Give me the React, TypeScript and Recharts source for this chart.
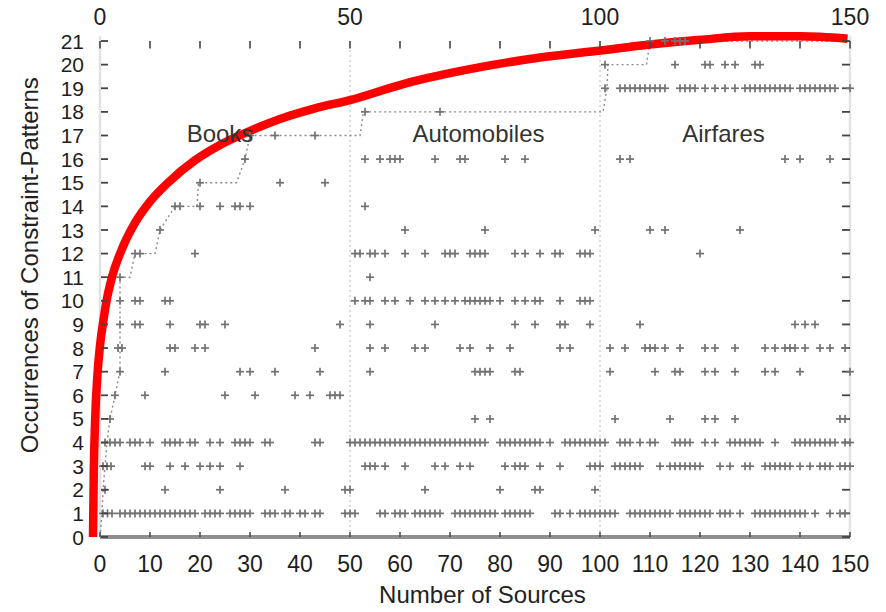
import React from 'react';
import { ComposedChart, Scatter, Line, XAxis, YAxis, ReferenceLine, ReferenceDot, Label } from 'recharts';

const FONT = '"Liberation Sans", Arial, Helvetica, sans-serif';

// x positions (number of sources) of the '+' marks, one list per occurrence level
const occ1 = [0.6, 1.5, 2.4, 4, 5, 6, 7, 8, 9, 10, 11, 12, 13, 14, 15, 16, 17, 18, 19, 21, 22, 23, 24, 26, 27, 28, 29, 30, 33, 34, 35, 37, 38, 40, 41, 43, 44, 49, 50, 51, 56, 57, 59, 60, 61, 63, 64, 65, 66, 67, 68, 71, 72, 73, 74, 75, 76, 77, 78, 79, 81, 82, 83, 84, 85, 86, 91, 92, 94, 96, 97, 98, 99, 100, 101, 102, 103, 106, 107, 108, 109, 110, 111, 112, 113, 114, 116, 117, 118, 119, 120, 121, 122, 124, 125, 126, 128, 131, 132, 133, 134, 135, 136, 137, 138, 139, 140, 141, 143, 146, 148, 149];
const occ2 = [1, 13, 24, 37, 49, 50, 65, 80, 87, 88, 99];
const occ3 = [0.6, 1.4, 2.2, 9, 10, 14, 17, 20, 22, 24, 28, 53, 54, 55, 57, 61, 67, 69, 72, 74, 81, 83, 84, 85, 88, 92, 98, 99, 100, 103, 104, 105, 106, 107, 108, 112, 114, 115, 116, 117, 118, 119, 120, 124, 126, 129, 130, 133, 134, 135, 136, 137, 138, 140, 142, 144, 145, 146, 148, 149, 150];
const occ4 = [1, 2, 3, 4, 6, 7, 8, 10, 13, 14, 15, 16, 18, 19, 22, 24, 27, 28, 29, 30, 33, 34, 43, 44, 50, 51, 52, 53, 54, 55, 56, 57, 58, 59, 60, 61, 62, 63, 64, 65, 66, 67, 68, 69, 70, 71, 72, 73, 74, 75, 76, 77, 80, 81, 82, 83, 84, 85, 86, 87, 88, 90, 93, 94, 95, 96, 97, 98, 99, 100, 101, 104, 105, 106, 108, 110, 111, 115, 116, 117, 118, 121, 123, 126, 127, 128, 129, 130, 131, 132, 135, 139, 140, 141, 142, 143, 144, 145, 146, 147, 149, 150];
const occ5 = [2, 75, 78, 103, 114, 121, 123, 127, 148, 149];
const occ6 = [3, 9, 25, 31, 39, 42, 46, 47, 48];
const occ7 = [4, 13, 28, 30, 35, 44, 54, 75, 76, 77, 78, 83, 84, 102, 111, 115, 116, 121, 123, 127, 133, 135, 140, 150];
const occ8 = [3.6, 4.4, 14, 15, 19, 21, 43, 54, 57, 63, 65, 72, 74, 78, 82, 92, 94, 102, 105, 109, 110, 111, 113, 116, 121, 123, 127, 133, 135, 137, 138, 139, 141, 144, 146, 149];
const occ9 = [4, 7, 8, 14, 20, 21, 25, 48, 54, 67, 83, 87, 92, 93, 98, 108, 139, 141, 143];
const occ10 = [4, 7, 8, 13, 14, 51, 53, 54, 57, 59, 62, 65, 67, 69, 71, 73, 74, 75, 76, 77, 78, 80, 83, 85, 87, 88, 92, 96, 97, 98];
const occ11 = [4, 54];
const occ12 = [7, 8, 19, 51, 52, 54, 55, 57, 61, 65, 69, 70, 71, 74, 75, 76, 77, 83, 85, 88, 91, 92, 96, 97, 98, 120];
const occ13 = [12, 61, 77, 99, 110, 113, 128];
const occ14 = [15, 16, 20, 24, 27, 28, 30, 53];
const occ15 = [20, 36, 45];
const occ16 = [29, 53, 56, 58, 59, 60, 67, 72, 73, 81, 85, 104, 106, 137, 140, 146];
const occ17 = [30, 35, 43];
const occ18 = [53, 68];
const occ19 = [101, 104, 105, 106, 107, 108, 109, 110, 111, 112, 113, 116, 117, 118, 119, 121, 123, 125, 127, 129, 130, 131, 132, 133, 134, 135, 136, 137, 138, 140, 141, 142, 143, 144, 145, 146, 147, 150];
const occ20 = [101, 115, 121, 122, 125, 127, 131, 132];
const occ21 = [110, 113, 115, 116, 117];

const occurrenceRows = [occ1, occ2, occ3, occ4, occ5, occ6, occ7, occ8, occ9, occ10, occ11, occ12, occ13, occ14, occ15, occ16, occ17, occ18, occ19, occ20, occ21];

// running-maximum step line (dotted)
const stepX = [0, 0.4, 0.6, 1, 1.4, 2, 3, 4, 4, 6, 7, 11, 12, 15, 19.4, 19.7, 27.3, 29, 30, 52, 52.7, 100.6, 101.4, 101.6, 109.3, 110, 150];
const stepY = [0, 1, 2, 3, 4, 5, 6, 7, 11, 11, 12, 12, 13, 14, 14, 15, 15, 16, 17, 17, 18, 18, 19, 20, 20, 21, 21];

// red fitted curve
const curveX = [-1.4, -1.25, -1.0, -0.5, 0, 0.7, 1.4, 2.4, 4.6, 7, 10, 13.6, 19, 24, 29, 36, 43, 50, 61, 75, 88, 100, 110, 120, 130, 140, 149.5];
const curveY = [0, 2.7, 4.8, 6.9, 8.1, 9.2, 10.1, 11.0, 12.3, 13.3, 14.2, 15.0, 15.95, 16.6, 17.1, 17.7, 18.15, 18.5, 19.2, 19.85, 20.3, 20.6, 20.85, 21.05, 21.2, 21.2, 21.1];

const xTicks = [0, 10, 20, 30, 40, 50, 60, 70, 80, 90, 100, 110, 120, 130, 140, 150];
const topLabelValues = [0, 50, 100, 150];
const yTicks = [0, 1, 2, 3, 4, 5, 6, 7, 8, 9, 10, 11, 12, 13, 14, 15, 16, 17, 18, 19, 20, 21];
const dividerX = [50, 100];

const domainNames = ['Books', 'Automobiles', 'Airfares'];
const domainLabelX = [24, 75.7, 124.7];
const domainLabelY = [17.08, 17.08, 17.08];

const marks = occurrenceRows.flatMap((xs, i) => xs.map((x) => ({ x, y: i + 1 })));
const stepData = stepX.map((x, i) => ({ x, y: stepY[i] }));
const curveData = curveX.map((x, i) => ({ x, y: curveY[i] }));

const PlusMark = (props: any) => {
  const { cx, cy } = props;
  if (cx == null || cy == null) return null;
  return (
    <g>
      <line x1={cx - 4} x2={cx + 4} y1={cy} y2={cy} stroke="#727272" strokeWidth={1.7} />
      <line x1={cx} x2={cx} y1={cy - 4} y2={cy + 4} stroke="#727272" strokeWidth={1.7} />
    </g>
  );
};

const NoMark = () => <g />;
const NoTickLabel = () => <g />;

const TopTick = (props: any) => {
  const { x, y, payload } = props;
  const v = payload.value;
  return (
    <g>
      <line x1={x} x2={x} y1={y + 23.6} y2={y + 31} stroke="#444" strokeWidth={1.6} />
      {topLabelValues.includes(v) && (
        <text x={x} y={y + 7.6} textAnchor="middle" fontSize={23} fill="#1e1e1e" fontFamily={FONT}>
          {v}
        </text>
      )}
    </g>
  );
};

const LeftTick = (props: any) => {
  const { x, y, payload } = props;
  return (
    <g>
      <line x1={x + 11} x2={x + 18} y1={y} y2={y} stroke="#444" strokeWidth={1.8} />
      <text x={x - 6} y={y} dy="0.36em" textAnchor="end" fontSize={21} fill="#1e1e1e" fontFamily={FONT}>
        {payload.value}
      </text>
    </g>
  );
};

const XTitle = (props: any) => {
  const vb = props.viewBox || { x: 90, y: 537, width: 760, height: 60 };
  return (
    <text x={vb.x + vb.width / 2 + 12.5} y={vb.y + 66} textAnchor="middle" fontSize={24} fill="#222" fontFamily={FONT}>
      Number of Sources
    </text>
  );
};

const YTitle = (props: any) => {
  const vb = props.viewBox || { x: 30, y: 17.4, width: 60, height: 519.6 };
  const cx = vb.x + 8;
  const cy = vb.y + vb.height / 2 - 12;
  return (
    <text x={cx} y={cy} transform={`rotate(-90, ${cx}, ${cy})`} textAnchor="middle" fontSize={24} fill="#222" fontFamily={FONT}>
      Occurrences of Constraint-Patterns
    </text>
  );
};

export default function App() {
  return (
    <div style={{ position: 'absolute', left: 0, top: 0, width: 886, height: 612, background: '#fff' }}>
      <ComposedChart width={886} height={612} margin={{ top: 0.4, right: 26, bottom: 15, left: 30 }}>
        <XAxis
          dataKey="x"
          type="number"
          domain={[-2, 150]}
          ticks={xTicks}
          interval={0}
          axisLine={false}
          tickSize={-5}
          tickMargin={24}
          tickLine={{ stroke: '#444', strokeWidth: 1.5 }}
          tick={{ fontSize: 23, fill: '#1e1e1e', fontFamily: FONT }}
          height={60}
        >
          <Label content={XTitle} />
        </XAxis>
        <XAxis
          xAxisId="top"
          orientation="top"
          dataKey="x"
          type="number"
          domain={[-2, 150]}
          ticks={xTicks}
          interval={0}
          axisLine={false}
          tickLine={false}
          tickSize={0}
          tickMargin={0}
          tick={TopTick}
          height={17}
        />
        <YAxis
          dataKey="y"
          type="number"
          domain={[0, 22]}
          ticks={yTicks}
          interval={0}
          axisLine={false}
          tickLine={false}
          tickSize={0}
          tickMargin={0}
          tick={LeftTick}
          width={60}
        >
          <Label content={YTitle} />
        </YAxis>
        <YAxis
          yAxisId="right"
          orientation="right"
          dataKey="y"
          type="number"
          domain={[0, 22]}
          ticks={yTicks}
          interval={0}
          axisLine={false}
          tick={NoTickLabel}
          tickSize={-8}
          tickLine={{ stroke: '#444', strokeWidth: 1.8 }}
          width={10}
        />

        <ReferenceLine segment={[{ x: 0, y: 0 }, { x: 0, y: 21.2 }]} stroke="#e2e2e2" strokeWidth={2.5} />
        <ReferenceLine segment={[{ x: 150, y: 0 }, { x: 150, y: 21.2 }]} stroke="#e2e2e2" strokeWidth={2.5} />
        {dividerX.map((dx) => (
          <ReferenceLine key={dx} segment={[{ x: dx, y: 0 }, { x: dx, y: 21 }]} stroke="#b8b8b8" strokeWidth={1} strokeDasharray="2 3" />
        ))}
        <ReferenceLine segment={[{ x: 0, y: 0 }, { x: 150, y: 0 }]} stroke="#8e8e8e" strokeWidth={4} />

        {domainNames.map((name, i) => (
          <ReferenceDot
            key={name}
            x={domainLabelX[i]}
            y={domainLabelY[i]}
            r={0}
            fill="none"
            stroke="none"
            label={{ value: name, position: 'center', fontSize: 24, fill: '#333', fontFamily: FONT }}
          />
        ))}

        <Scatter xAxisId="top" yAxisId="right" data={stepData} dataKey="y" shape={NoMark} legendType="none" isAnimationActive={false} />
        <Line
          data={stepData}
          dataKey="y"
          type="linear"
          dot={false}
          stroke="#8a8a8a"
          strokeWidth={1.4}
          strokeDasharray="2 3"
          isAnimationActive={false}
        />
        <Scatter data={marks} dataKey="y" shape={PlusMark} isAnimationActive={false} />
        <Line
          data={curveData}
          dataKey="y"
          type="monotone"
          dot={false}
          stroke="#ff0000"
          strokeWidth={8.5}
          isAnimationActive={false}
        />
      </ComposedChart>
    </div>
  );
}
